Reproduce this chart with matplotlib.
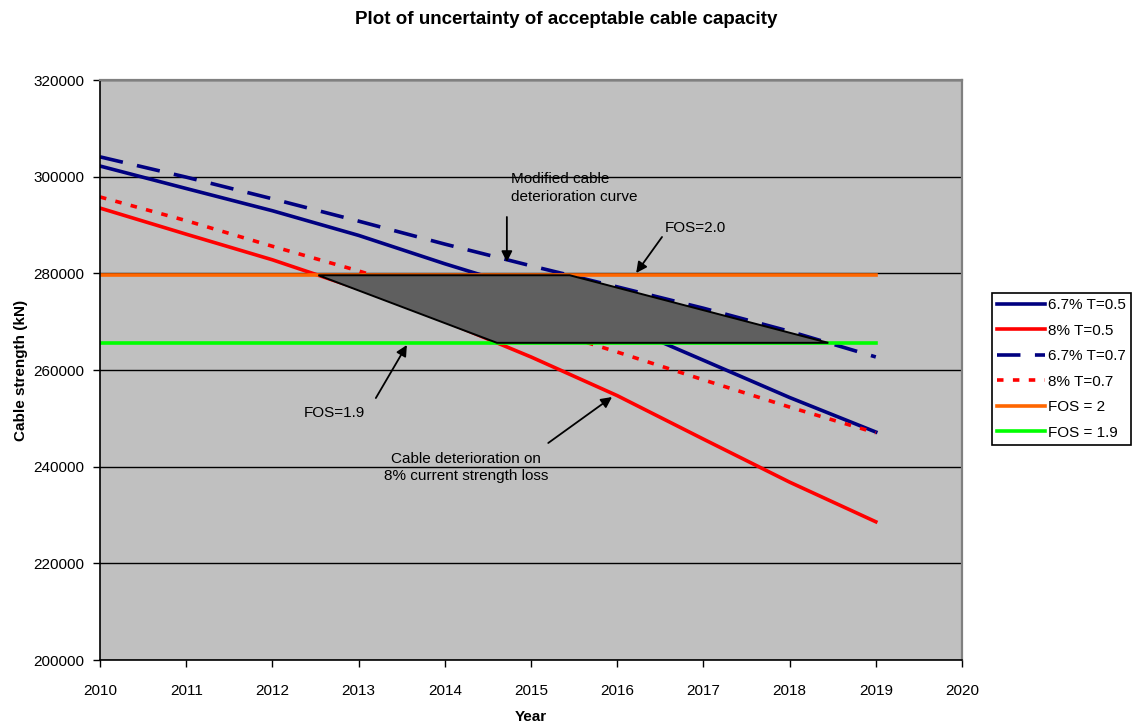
import numpy as np
import matplotlib
matplotlib.use("Agg")
import matplotlib.pyplot as plt
from matplotlib.patches import Polygon

plt.rcParams['font.family'] = ['Liberation Sans', 'DejaVu Sans']

# data
years = [2010, 2011, 2012, 2013, 2014, 2015, 2016, 2017, 2018, 2019]
loss67_t05 = [302200, 297550, 292950, 287850, 281980, 276500, 269700, 262020, 254310, 247170]
loss8_t05 = [293500, 288100, 282800, 276800, 270100, 262700, 254700, 245700, 236800, 228600]
loss67_t07 = [304100, 299900, 295420, 290800, 286050, 281560, 277200, 272780, 268000, 262700]
loss8_t07 = [295800, 290900, 285600, 280500, 274900, 269300, 263720, 257970, 252330, 247000]
fos2 = 279600
fos19 = 265620

years = np.array(years)

def crossing(series, level):
    # year at which a falling series reaches a level
    s = np.array(series, dtype=float)
    return np.interp(-level, -s, years)

fig = plt.figure(figsize=(11.38, 7.24), dpi=100)
ax = fig.add_axes([100/1138, 1-660/724, 862/1138, 580/724])
ax.set_facecolor('#c0c0c0')

ax.plot(years, loss67_t05, color='#000080', lw=2.6, label='6.7% T=0.5', zorder=2)
ax.plot(years, loss8_t05, color='#ff0000', lw=2.6, label='8% T=0.5', zorder=2)
ax.plot(years, loss67_t07, color='#000080', lw=2.6, dashes=(6.5, 4), label='6.7% T=0.7', zorder=2)
ax.plot(years, loss8_t07, color='#ff0000', lw=2.6, dashes=(1.8, 2.6), label='8% T=0.7', zorder=2)
ax.plot(years, np.full(len(years), fos2), color='#ff6600', lw=2.6, label='FOS = 2', zorder=2)
ax.plot(years, np.full(len(years), fos19), color='#00ff00', lw=2.6, label='FOS = 1.9', zorder=2)

# shaded band between the two curves and the two FOS levels
pts = [(crossing(loss8_t05, fos2), fos2),
       (crossing(loss67_t07, fos2), fos2),
       (crossing(loss67_t07, fos19), fos19),
       (crossing(loss8_t05, fos19), fos19)]
ax.add_patch(Polygon(pts, closed=True, facecolor='#5f5f5f', edgecolor='black', lw=1.4, zorder=3))

ax.set_xlim(2010, 2020)
ax.set_ylim(200000, 320000)
ax.set_xticks(range(2010, 2021))
ax.set_yticks(range(200000, 320001, 20000))
ax.yaxis.grid(True, color='black', lw=1.0, zorder=1)
ax.set_axisbelow(True)
ax.tick_params(axis='both', direction='out', length=5, width=1, labelsize=11, colors='black')
ax.tick_params(axis='x', pad=12)
ax.tick_params(axis='y', pad=6)
for side in ['top', 'right']:
    ax.spines[side].set_color('#808080')
    ax.spines[side].set_linewidth(1.6)
for side in ['left', 'bottom']:
    ax.spines[side].set_color('black')
    ax.spines[side].set_linewidth(1.2)

ax.set_xlabel('Year', fontsize=11, fontweight='bold', labelpad=9)
ax.set_ylabel('Cable strength (kN)', fontsize=11, fontweight='bold', labelpad=4)
fig.text(566/1138, 1-20/724, 'Plot of uncertainty of acceptable cable capacity',
         ha='center', va='center', fontsize=13.5, fontweight='bold')

arrow = dict(arrowstyle='-|>', color='black', lw=1.3, mutation_scale=16, shrinkA=0, shrinkB=0)
ax.text(2014.77, 300970, 'Modified cable\ndeterioration curve', ha='left', va='top', fontsize=11, linespacing=1.35)
ax.annotate('', xy=(2014.72, 282340), xytext=(2014.72, 291660), arrowprops=arrow, zorder=5)
ax.text(2016.55, 289380, 'FOS=2.0', ha='left', va='center', fontsize=11)
ax.annotate('', xy=(2016.22, 280070), xytext=(2016.52, 287520), arrowprops=arrow, zorder=5)
ax.text(2012.36, 251100, 'FOS=1.9', ha='left', va='center', fontsize=11)
ax.annotate('', xy=(2013.56, 265170), xytext=(2013.2, 254200), arrowprops=arrow, zorder=5)
ax.text(2014.25, 239830, 'Cable deterioration on\n8% current strength loss', ha='center', va='center',
        fontsize=11, linespacing=1.35)
ax.annotate('', xy=(2015.94, 254410), xytext=(2015.2, 244900), arrowprops=arrow, zorder=5)

leg = fig.legend(loc='upper left', bbox_to_anchor=(992/1138, 1-293/724), fontsize=11,
                 frameon=True, fancybox=False, edgecolor='black', framealpha=1,
                 handlelength=3.1, handletextpad=0.2, labelspacing=0.75,
                 borderpad=0.35, borderaxespad=0)
leg.get_frame().set_linewidth(1.2)

fig.savefig('out.png', dpi=100)
